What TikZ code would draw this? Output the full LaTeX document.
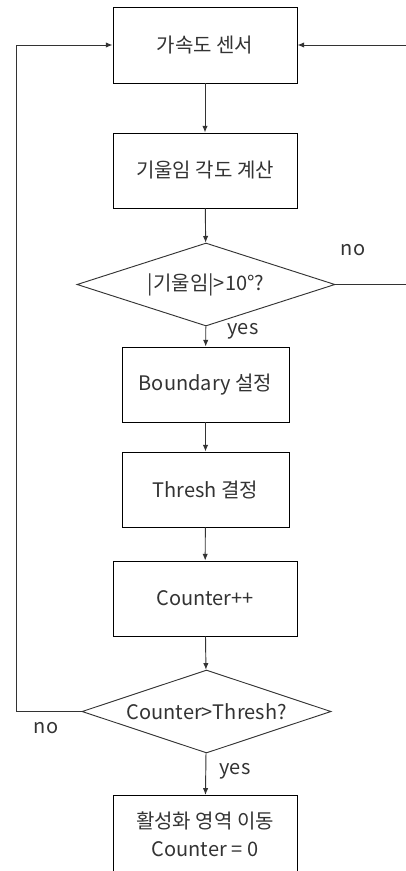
\documentclass[tikz,border=0pt]{standalone}
\usepackage{fontspec}
\setmainfont{Noto Sans CJK KR}
\usetikzlibrary{shapes.geometric,arrows.meta}
\begin{document}
\begin{tikzpicture}[x=0.75pt,y=-0.75pt,
  font=\fontsize{15pt}{21pt}\selectfont,
  box/.style={draw=black,line width=0.7pt,inner sep=0pt,text=black!80},
  decision/.style={draw=black!80,line width=0.7pt,diamond,inner sep=0pt},
  flow/.style={draw=black!80,line width=0.7pt,-{Latex[length=5pt,width=4pt]}},
  tag/.style={text=black!80,inner sep=0pt}]
\useasboundingbox (0,0) rectangle (406,871);
\fill[white] (0,0) rectangle (406,871);

% process boxes
\node[box,minimum width=138pt,minimum height=57pt]       (sensor) at (205,45)    {가속도 센서};
\node[box,minimum width=138pt,minimum height=56.25pt]    (angle)  at (205,170.5) {기울임 각도 계산};
\node[box,minimum width=125.25pt,minimum height=56.25pt] (bound)  at (205.5,384.5) {Boundary 설정};
\node[box,minimum width=125.25pt,minimum height=56.25pt] (thresh) at (205.5,489.5) {Thresh 결정};
\node[box,minimum width=138pt,minimum height=56.25pt]    (count)  at (205,598.5) {Counter++};
\node[box,minimum width=138pt,minimum height=58pt,align=center] (move) at (205,834)
  {활성화 영역 이동\\Counter = 0};

% decisions
\node[decision,minimum width=193.5pt,minimum height=62.25pt] (tilt) at (206,284.5) {};
\node[tag] at (tilt) {|기울임|>10°?};
\node[decision,minimum width=186.75pt,minimum height=62.25pt] (cmp) at (206.5,711.5) {};
\node[tag] at (cmp) {Counter>Thresh?};

% return paths
\coordinate (rx) at (408,284.5);
\coordinate (lx) at (16,711.5);

% straight flow
\draw[flow] (sensor) -- (angle);
\draw[flow] (angle) -- (tilt);
\draw[flow] (tilt) -- (bound);
\draw[flow] (bound) -- (thresh);
\draw[flow] (thresh) -- (count);
\draw[flow] (count) -- (cmp);
\draw[flow] (cmp) -- (move);

% loops back to the sensor
\draw[flow] (tilt.east) -- (rx) |- (sensor.east);
\draw[flow] (cmp.west) -- (lx) |- (sensor.west);

% branch labels
\node[tag] at (353,250) {no};
\node[tag] at (243,331) {yes};
\node[tag] at (46,728) {no};
\node[tag] at (235,771) {yes};
\end{tikzpicture}
\end{document}
